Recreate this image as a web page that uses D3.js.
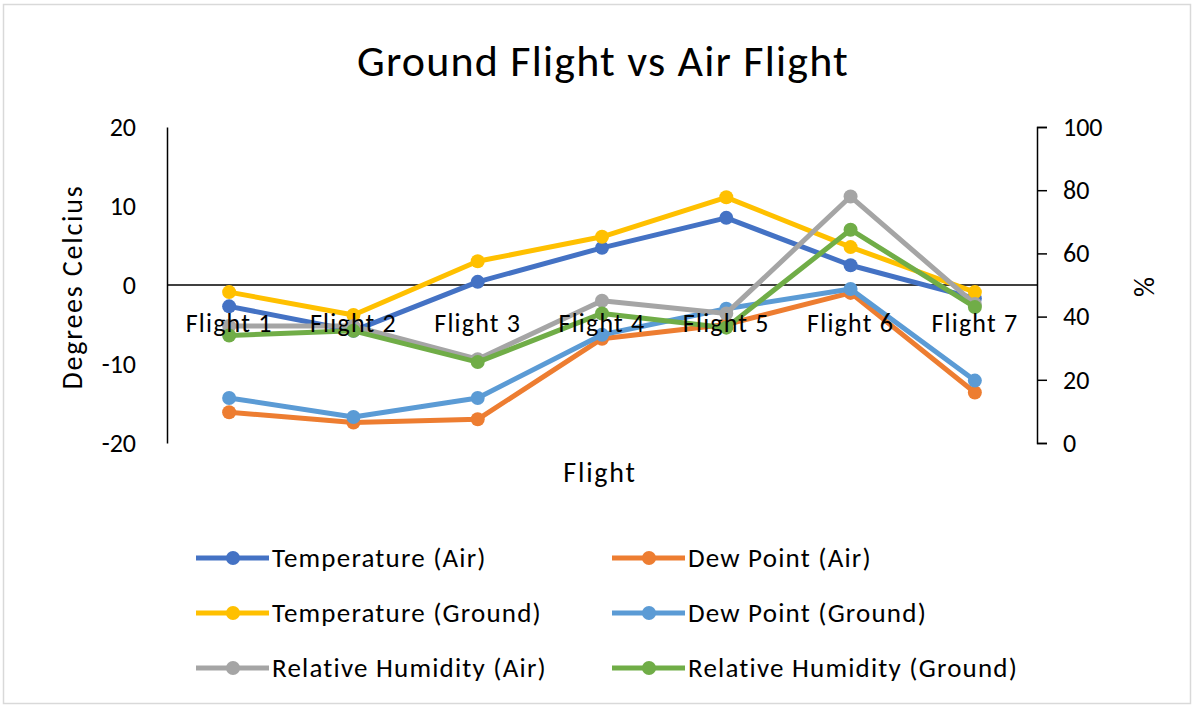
<!DOCTYPE html>
<html><head><meta charset="utf-8">
<script src="https://cdnjs.cloudflare.com/ajax/libs/d3/7.8.5/d3.min.js"></script>
<style>
html,body{margin:0;padding:0;background:#fff;}
svg text{font-family:Carlito, Lato, "Liberation Sans", sans-serif;fill:#000;}
</style></head>
<body>
<svg id="chart" width="1195" height="708"></svg>
<script>
const categories = ["Flight 1","Flight 2","Flight 3","Flight 4","Flight 5","Flight 6","Flight 7"];
const tempAir      = [-2.7, -5.8, 0.4, 4.7, 8.5, 2.5, -1.7];
const dewAir       = [-16.1, -17.4, -17.0, -6.8, -5.0, -1.0, -13.6];
const tempGround   = [-0.9, -3.8, 3.0, 6.1, 11.1, 4.8, -0.9];
const dewGround    = [-14.3, -16.7, -14.3, -6.3, -3.0, -0.5, -12.1];
const rhAir        = [37, 37, 26.5, 45, 41, 78, 44];
const rhGround     = [34, 35.5, 25.6, 41, 36.5, 67.5, 43];
const leftTicks  = [-20,-10,0,10,20];
const rightTicks = [0,20,40,60,80,100];
const seriesNames = ["Temperature (Air)","Dew Point (Air)","Temperature (Ground)","Dew Point (Ground)","Relative Humidity (Air)","Relative Humidity (Ground)"];

const colors = ["#4472C4","#ED7D31","#FFC000","#5B9BD5","#A5A5A5","#70AD47"];
const series = [
  {name:seriesNames[0], values:tempAir, axis:"L"},
  {name:seriesNames[1], values:dewAir, axis:"L"},
  {name:seriesNames[2], values:tempGround, axis:"L"},
  {name:seriesNames[3], values:dewGround, axis:"L"},
  {name:seriesNames[4], values:rhAir, axis:"R"},
  {name:seriesNames[5], values:rhGround, axis:"R"}
];

const FONT = "Carlito, Lato, sans-serif";
const svg = d3.select("#chart");
svg.append("rect").attr("x",3.5).attr("y",4.5).attr("width",1187).attr("height",699)
  .attr("fill","#fff").attr("stroke","#d9d9d9").attr("stroke-width",1.5);

const pLeft = 167, pRight = 1037, pTop = 127, pBottom = 443;
const x = d3.scaleBand().domain(categories).range([pLeft,pRight]);
const yL = d3.scaleLinear().domain([-20,20]).range([pBottom,pTop]);
const yR = d3.scaleLinear().domain([0,100]).range([pBottom,pTop]);

// title
svg.append("text").attr("x",603).attr("y",76).attr("text-anchor","middle")
  .style("font-size","44px").style("letter-spacing","1.2px").text("Ground Flight vs Air Flight");

// left axis
const gL = svg.append("g").attr("transform",`translate(${pLeft},0)`)
  .call(d3.axisLeft(yL).tickValues(leftTicks).tickSize(0).tickPadding(31).tickFormat(d=>String(d)));
gL.select(".domain").attr("stroke","#000").attr("stroke-width",1.5);
gL.selectAll("text").style("font-size","26px").style("font-family",FONT).attr("fill","#000");

// right axis
const gR = svg.append("g").attr("transform",`translate(${pRight},0)`)
  .call(d3.axisRight(yR).tickValues(rightTicks).tickSize(10).tickPadding(16).tickFormat(d=>String(d)));
gR.select(".domain").attr("stroke","#000").attr("stroke-width",1.5);
gR.selectAll("line").attr("stroke","#000").attr("stroke-width",1.5);
gR.selectAll("text").style("font-size","26px").style("font-family",FONT).attr("fill","#000");

// zero axis line
svg.append("line").attr("x1",pLeft).attr("x2",pRight).attr("y1",yL(0)).attr("y2",yL(0))
  .attr("stroke","#000").attr("stroke-width",1.5);

// series
const cx = d => x(d) + x.bandwidth()/2;
series.forEach((s,i) => {
  const ys = s.axis === "L" ? yL : yR;
  const line = d3.line().x((d,j)=>cx(categories[j])).y(d=>ys(d));
  svg.append("path").datum(s.values).attr("d",line).attr("fill","none")
    .attr("stroke",colors[i]).attr("stroke-width",5).attr("stroke-linejoin","round");
  svg.append("g").selectAll("circle").data(s.values).join("circle")
    .attr("cx",(d,j)=>cx(categories[j])).attr("cy",d=>ys(d)).attr("r",7).attr("fill",colors[i]);
});

// category labels (drawn on top)
const gX = svg.append("g").attr("transform",`translate(0,${yL(0)})`)
  .call(d3.axisBottom(x).tickSize(0).tickPadding(29));
gX.select(".domain").remove();
gX.selectAll("text").style("font-size","26px").style("letter-spacing","1.2px")
  .style("font-family",FONT).attr("fill","#000");

// axis titles
svg.append("text").attr("x",600).attr("y",482).attr("text-anchor","middle")
  .style("font-size","28px").style("letter-spacing","1.8px").text("Flight");
svg.append("text").attr("transform","translate(82,287) rotate(-90)").attr("text-anchor","middle")
  .style("font-size","28px").style("letter-spacing","1.8px").text("Degrees Celcius");
svg.append("text").attr("transform","translate(1134,287) rotate(90)").attr("text-anchor","middle")
  .style("font-size","28px").text("%");

// legend
const legX = [196, 612], legY = [558, 613, 668];
series.forEach((s,i) => {
  const lx = legX[i%2], ly = legY[Math.floor(i/2)];
  const g = svg.append("g").attr("transform",`translate(${lx},${ly})`);
  g.append("line").attr("x1",0).attr("x2",73).attr("y1",0).attr("y2",0)
    .attr("stroke",colors[i]).attr("stroke-width",5);
  g.append("circle").attr("cx",37).attr("cy",0).attr("r",7).attr("fill",colors[i]);
  g.append("text").attr("x",76).attr("y",9).style("font-size","27px").style("letter-spacing","1.2px").text(s.name);
});
</script>
</body></html>
